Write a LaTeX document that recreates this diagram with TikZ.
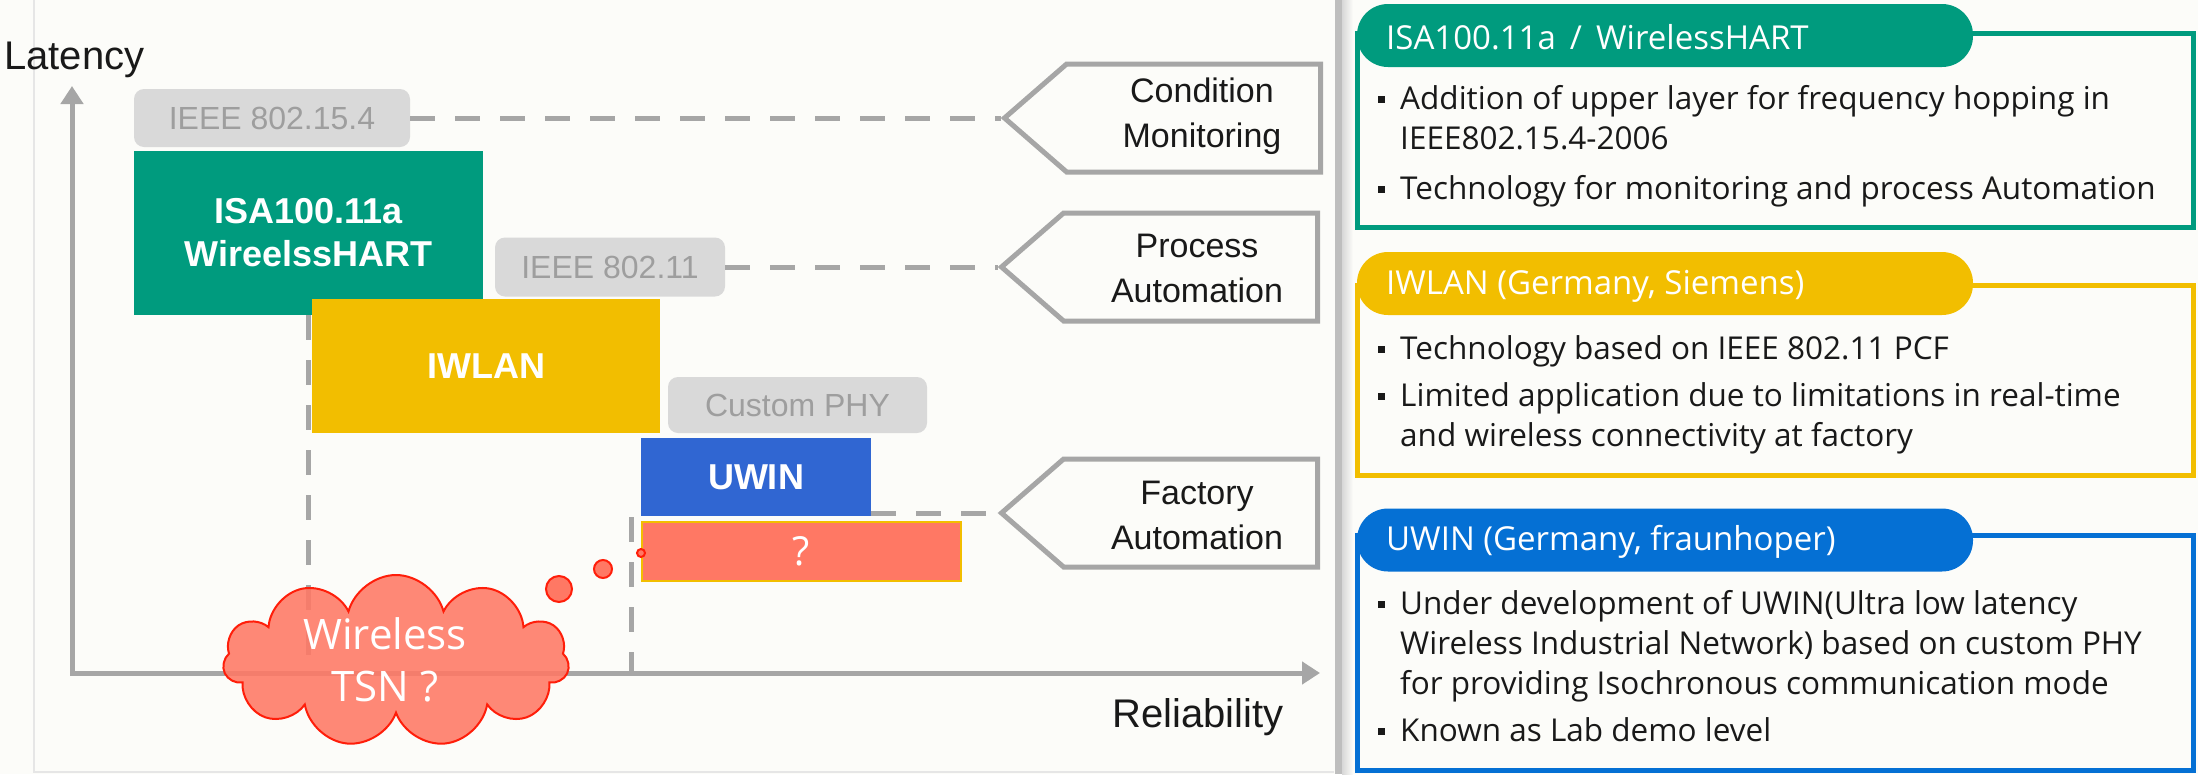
\documentclass[tikz,border=0pt]{standalone}
\usepackage{fontspec}
\setmainfont{Liberation Sans}
\newfontfamily\kfont{Open Sans}
\usetikzlibrary{arrows.meta,shapes.symbols}
\definecolor{bg}{RGB}{252,252,249}
\definecolor{teal}{RGB}{0,155,126}
\definecolor{yel}{RGB}{242,190,0}
\definecolor{bluebox}{RGB}{48,102,210}
\definecolor{blueR}{RGB}{5,112,212}
\definecolor{salmon}{RGB}{255,120,100}
\definecolor{cloudred}{RGB}{255,30,10}
\definecolor{lgray}{RGB}{217,217,217}
\definecolor{tgray}{RGB}{158,158,158}
\definecolor{lineg}{RGB}{166,166,166}
\definecolor{txt}{RGB}{25,25,25}
\definecolor{frameg}{RGB}{230,230,230}
\definecolor{divg}{RGB}{190,190,190}
\definecolor{shadg}{RGB}{215,215,215}
\begin{document}
\begin{tikzpicture}[x=1pt,y=-1pt,
  gbox/.style={fill=lgray, rounded corners=10pt, text=tgray, font=\fontsize{32}{38}\selectfont, inner sep=0pt},
  cbox/.style={text=white, font=\bfseries\fontsize{36}{43}\selectfont, inner sep=0pt, align=center},
  dline/.style={draw=lineg, line width=5pt, dash pattern=on 25pt off 20pt},
  chev/.style={signal, signal to=west, signal pointer angle=82, draw=lineg, line width=5pt, inner sep=0pt, minimum width=316pt, minimum height=108pt, anchor=east},
  clab/.style={font=\fontsize{34}{45}\selectfont, align=center, text=txt},
  axislab/.style={font=\fontsize{40}{48}\selectfont, text=txt, inner sep=0pt},
  bubble/.style={circle, fill=salmon, draw=cloudred, line width=2pt, inner sep=0pt},
  panel/.style={draw=#1, line width=5pt, minimum width=836pt, inner sep=0pt},
  pill/.style={fill=#1, rounded corners=31pt, minimum width=616pt, minimum height=63pt, inner sep=0pt},
  head/.style={text=white, font=\kfont\fontsize{33}{38}\selectfont, anchor=west, inner sep=0pt},
  body/.style={text=txt, font=\kfont\fontsize{31.5}{38}\selectfont, anchor=base west, inner sep=0pt},
  bsq/.style={fill=txt, minimum size=7pt, inner sep=0pt}
]
\useasboundingbox (0,0) rectangle (2198,774);
\fill[bg] (0,0) rectangle (2198,774);
% left panel frame
\draw[draw=frameg, line width=1.5pt] (34,0) -- (34,772) -- (1334,772);
% divider
\fill[divg] (1335,0) rectangle (1342,774);
\shade[left color=shadg, right color=bg] (1342,0) rectangle (1353,774);

% axes
\coordinate (O) at (72,673);
\coordinate (ytop) at (72,86);
\coordinate (xend) at (1320,673);
\node[axislab, anchor=base west] (lat) at (4,69) {Latency};
\node[axislab, anchor=base west] (rel) at (1112,727) {Reliability};

% boxes
\node[gbox, minimum width=276pt, minimum height=58pt] (ieee154) at (272,118) {IEEE 802.15.4};
\node[cbox, fill=teal, minimum width=349pt, minimum height=164pt] (isa) at (308.5,233) {ISA100.11a\\[0pt]WireelssHART};
\node[gbox, minimum width=230pt, minimum height=59pt] (ieee11) at (610,267) {IEEE 802.11};

% vertical dashed guide lines (behind boxes)
\coordinate (v2) at (631,517);
\draw[dline] (isa.south) -- (isa.south |- O);
\draw[dline] (v2) -- (v2 |- O);

\node[cbox, fill=yel, minimum width=348pt, minimum height=134pt] (iwlan) at (486,366) {IWLAN};
\node[gbox, minimum width=259pt, minimum height=56pt] (custom) at (797.5,405) {Custom PHY};
\node[cbox, fill=bluebox, minimum width=230pt, minimum height=78pt] (uwin) at (756,477) {UWIN};
\node[cbox, fill=salmon, draw=yel, line width=1.5pt, minimum width=319pt, minimum height=59pt, font=\kfont\fontsize{40}{44}\selectfont] (q) at (801.5,551.5) {?};

% axes drawn
\draw[draw=lineg, line width=5pt, {Triangle[length=18pt,width=22pt]}-{Triangle[length=18pt,width=22pt]}] (ytop) -- (O) -- (xend);

% chevrons
\node[chev] (cm) at (1323,118) {};
\node[clab] (cmt) at (1202,116) {Condition\\Monitoring};
\node[chev] (pa) at (1320,267) {};
\node[clab] (pat) at (1197,268) {Process\\Automation};
\node[chev] (fa) at (1320,513) {};
\node[clab] (fat) at (1197,515) {Factory\\Automation};

% dashed connectors
\draw[dline] (ieee154.east) -- (cm.west);
\draw[dline] (ieee11.east) -- (pa.west);
\draw[dline] (uwin.east |- fa.west) -- (fa.west);

% cloud
\node[cloud, cloud puffs=11, aspect=2.1, minimum width=346pt, minimum height=172pt, fill=salmon, fill opacity=0.88, draw=cloudred, line width=2pt, inner sep=0pt] (tsn) at (396,661) {};
\node[text=white, font=\kfont\fontsize{42}{52}\selectfont, align=center] (tsnt) at (385,660) {Wireless\\TSN ?};
\node[bubble, minimum size=26pt] (b1) at (559,589) {};
\node[bubble, minimum size=18pt] (b2) at (603,569) {};
\node[bubble, minimum size=8pt] (b3) at (641,553) {};

% right panels
\node[panel=teal, minimum height=194pt] (p1) at (1775,130) {};
\node[pill=teal] (h1) at (1665,35.5) {};
\node[head] (h1t) at (1386,37) {ISA100.11a \,/\, WirelessHART};
\node[bsq] (s11) at (1381,99) {};
\node[body] (l11) at (1400,109) {Addition of upper layer for frequency hopping in};
\node[body] (l12) at (1400,149) {IEEE802.15.4-2006};
\node[bsq] (s12) at (1381,189) {};
\node[body] (l13) at (1400,199) {Technology for monitoring and process Automation};

\node[panel=yel, minimum height=190pt] (p2) at (1775,380) {};
\node[pill=yel] (h2) at (1665,283.5) {};
\node[head] (h2t) at (1386,286) {IWLAN (Germany, Siemens)};
\node[bsq] (s21) at (1381,349) {};
\node[body] (l21) at (1400,359) {Technology based on IEEE 802.11 PCF};
\node[bsq] (s22) at (1381,396) {};
\node[body] (l22) at (1400,406) {Limited application due to limitations in real-time};
\node[body] (l23) at (1400,446) {and wireless connectivity at factory};

\node[panel=blueR, minimum height=235pt] (p3) at (1775,652.5) {};
\node[pill=blueR] (h3) at (1665,540) {};
\node[head] (h3t) at (1386,542) {UWIN (Germany, fraunhoper)};
\node[bsq] (s31) at (1381,604) {};
\node[body] (l31) at (1400,614) {Under development of UWIN(Ultra low latency};
\node[body] (l32) at (1400,654) {Wireless Industrial Network) based on custom PHY};
\node[body] (l33) at (1400,694) {for providing Isochronous communication mode};
\node[bsq] (s32) at (1381,731) {};
\node[body] (l34) at (1400,741) {Known as Lab demo level};
\end{tikzpicture}
\end{document}
